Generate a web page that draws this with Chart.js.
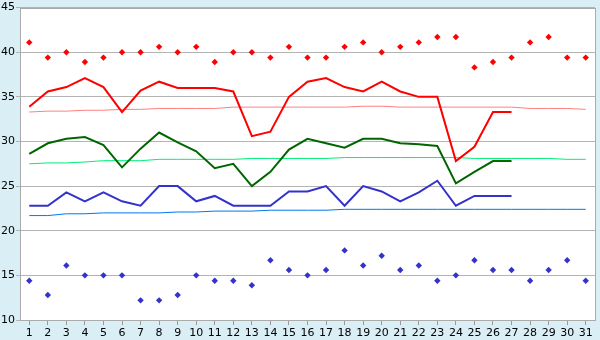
<!DOCTYPE html>
<html>
<head>
<meta charset="utf-8">
<script src="https://cdn.jsdelivr.net/npm/chart.js@4"></script>
<style>
  html, body { margin: 0; padding: 0; background: #d9eef5; }
  #wrap { width: 600px; height: 340px; }
</style>
</head>
<body>
<div id="wrap"><canvas id="c" width="600" height="340"></canvas></div>
<script>
const days = ["1","2","3","4","5","6","7","8","9","10","11","12","13","14","15","16","17","18","19","20","21","22","23","24","25","26","27","28","29","30","31"];
const yTicks = [10, 15, 20, 25, 30, 35, 40, 45];

const recordMax = [41.1,39.4,40.0,38.9,39.4,40.0,40.0,40.6,40.0,40.6,38.9,40.0,40.0,39.4,40.6,39.4,39.4,40.6,41.1,40.0,40.6,41.1,41.7,41.7,38.3,38.9,39.4,41.1,41.7,39.4,39.4];
const recordMin = [14.4,12.8,16.1,15.0,15.0,15.0,12.2,12.2,12.8,15.0,14.4,14.4,13.9,16.7,15.6,15.0,15.6,17.8,16.1,17.2,15.6,16.1,14.4,15.0,16.7,15.6,15.6,14.4,15.6,16.7,14.4];

const maxTemp  = [33.9,35.6,36.1,37.1,36.1,33.3,35.7,36.7,36.0,36.0,36.0,35.6,30.6,31.1,35.0,36.7,37.1,36.1,35.6,36.7,35.6,35.0,35.0,27.8,29.4,33.3,33.3,null,null,null,null];
const meanTemp = [28.6,29.8,30.3,30.5,29.6,27.1,29.2,31.0,29.9,28.9,27.0,27.5,25.0,26.6,29.1,30.3,29.8,29.3,30.3,30.3,29.8,29.7,29.5,25.3,26.6,27.8,27.8,null,null,null,null];
const minTemp  = [22.8,22.8,24.3,23.3,24.3,23.3,22.8,25.0,25.0,23.3,23.9,22.8,22.8,22.8,24.4,24.4,25.0,22.8,25.0,24.4,23.3,24.3,25.6,22.8,23.9,23.9,23.9,null,null,null,null];

const normalMax  = [33.3,33.4,33.4,33.5,33.5,33.6,33.6,33.7,33.7,33.7,33.7,33.85,33.85,33.85,33.85,33.85,33.85,33.85,33.95,33.95,33.85,33.85,33.85,33.85,33.85,33.85,33.85,33.7,33.7,33.7,33.6];
const normalMean = [27.5,27.6,27.6,27.7,27.85,27.85,27.85,28.0,28.0,28.0,28.0,28.0,28.1,28.1,28.1,28.1,28.1,28.2,28.2,28.2,28.2,28.2,28.2,28.2,28.1,28.1,28.1,28.1,28.1,28.0,28.0];
const normalMin  = [21.7,21.7,21.9,21.9,22.0,22.0,22.0,22.0,22.1,22.1,22.2,22.2,22.2,22.3,22.3,22.3,22.3,22.4,22.4,22.4,22.4,22.4,22.4,22.4,22.4,22.4,22.4,22.4,22.4,22.4,22.4];

const bgPlugin = {
  id: 'bg',
  beforeDraw(chart) {
    const { ctx, chartArea: a } = chart;
    ctx.save();
    ctx.fillStyle = '#d9eef5';
    ctx.fillRect(0, 0, chart.width, chart.height);
    ctx.fillStyle = '#ffffff';
    ctx.fillRect(a.left, a.top, a.right - a.left, a.bottom - a.top);
    ctx.restore();
  },
  beforeDatasetsDraw(chart) {
    const { ctx, chartArea: a } = chart;
    ctx.save();
    ctx.strokeStyle = '#aaaaaa';
    ctx.lineWidth = 1;
    ctx.strokeRect(Math.round(a.left) + 0.5, Math.round(a.top) + 0.5, Math.round(a.right - a.left), Math.round(a.bottom - a.top));
    ctx.restore();
  }
};

function lineDs(data, color, width) {
  return { data, borderColor: color, backgroundColor: color, borderWidth: width, pointRadius: 0, tension: 0, fill: false, spanGaps: false };
}
function pointDs(data, color) {
  return { data, showLine: false, pointStyle: 'rectRot', pointRadius: 3.2, pointBorderWidth: 0, pointBackgroundColor: color, borderColor: color, backgroundColor: color };
}

new Chart(document.getElementById('c'), {
  type: 'line',
  data: {
    labels: days,
    datasets: [
      pointDs(recordMax, '#ff0000'),
      pointDs(recordMin, '#3333cc'),
      lineDs(maxTemp, '#ff0000', 2),
      lineDs(meanTemp, '#006600', 2),
      lineDs(minTemp, '#3333cc', 2),
      lineDs(normalMax, '#ff8080', 1),
      lineDs(normalMean, '#00ee77', 1),
      lineDs(normalMin, '#0077ee', 1)
    ]
  },
  options: {
    responsive: false,
    animation: false,
    devicePixelRatio: 1,
    layout: { padding: { left: 0, right: 5, top: 5, bottom: 0 } },
    plugins: { legend: { display: false }, tooltip: { enabled: false } },
    scales: {
      x: {
        type: 'category',
        offset: true,
        grid: { offset: false, drawOnChartArea: false, drawTicks: true, tickLength: 5, color: '#999999' },
        border: { display: true, color: '#aaaaaa' },
        ticks: { color: '#000000', font: { family: 'DejaVu Sans', size: 11 }, padding: 2, maxRotation: 0, autoSkip: false },
        afterFit(s) { s.height = 20; }
      },
      y: {
        min: 10, max: 45,
        afterBuildTicks(s) { s.ticks = yTicks.map(v => ({ value: v })); },
        grid: { color: '#b4b4b4', tickLength: 4, drawTicks: true },
        border: { display: true, color: '#aaaaaa' },
        ticks: { color: '#000000', font: { family: 'DejaVu Sans', size: 11 }, padding: 1 },
        afterFit(s) { s.width = 20; }
      }
    }
  },
  plugins: [bgPlugin]
});
</script>
</body>
</html>
